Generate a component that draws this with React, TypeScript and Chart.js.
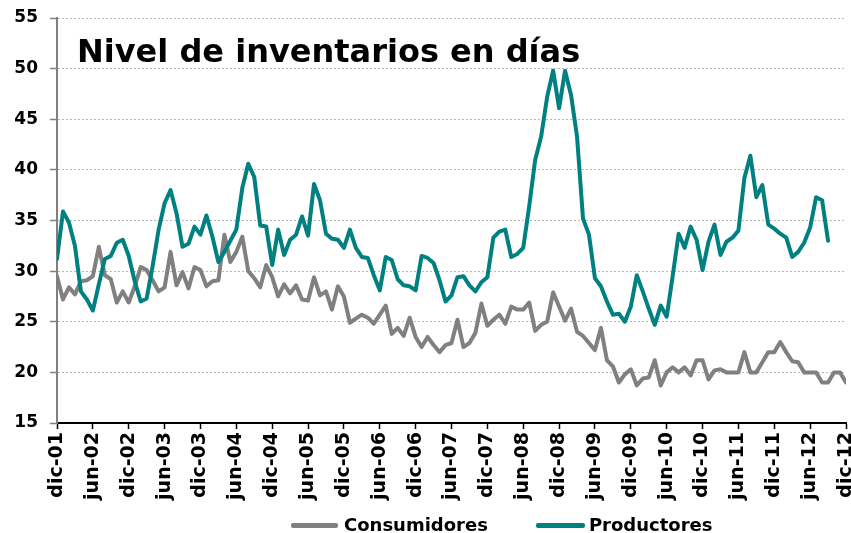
import React, { useEffect, useRef } from 'react';
import { Chart, registerables } from 'chart.js';

Chart.register(...registerables);

const FONT = "'DejaVu Sans', Verdana, sans-serif";

const chartTitle = 'Nivel de inventarios en días';

const seriesNames = ['Consumidores', 'Productores'];

const tickLabels = [
  'dic-01', 'jun-02', 'dic-02', 'jun-03', 'dic-03', 'jun-04', 'dic-04', 'jun-05',
  'dic-05', 'jun-06', 'dic-06', 'jun-07', 'dic-07', 'jun-08', 'dic-08', 'jun-09',
  'dic-09', 'jun-10', 'dic-10', 'jun-11', 'dic-11', 'jun-12', 'dic-12',
];

const yTicks = [15, 20, 25, 30, 35, 40, 45, 50, 55];

// monthly values, dic-01 .. dic-12
const consumidores = [
  29.5, 27.2, 28.4, 27.7, 29.0, 29.1, 29.5, 32.4, 29.6, 29.2, 26.9, 28.0,
  26.9, 28.5, 30.4, 30.1, 29.1, 28.0, 28.4, 31.9, 28.6, 29.9, 28.3, 30.4,
  30.1, 28.5, 29.0, 29.1, 33.6, 30.9, 31.9, 33.4, 30.0, 29.3, 28.4, 30.6,
  29.4, 27.5, 28.7, 27.8, 28.6, 27.2, 27.1, 29.4, 27.6, 28.0, 26.2, 28.5,
  27.5, 24.9, 25.3, 25.7, 25.4, 24.8, 25.7, 26.6, 23.8, 24.4, 23.6, 25.4,
  23.5, 22.5, 23.5, 22.7, 22.0, 22.7, 22.9, 25.2, 22.5, 22.9, 23.9, 26.8,
  24.6, 25.2, 25.7, 24.8, 26.5, 26.2, 26.2, 26.9, 24.1, 24.7, 25.0, 27.9,
  26.5, 25.1, 26.3, 24.0, 23.6, 22.9, 22.2, 24.4, 21.2, 20.6, 19.0, 19.8,
  20.3, 18.7, 19.4, 19.5, 21.2, 18.7, 20.0, 20.5, 20.0, 20.5, 19.7, 21.2,
  21.2, 19.3, 20.2, 20.3, 20.0, 20.0, 20.0, 22.0, 20.0, 20.0, 21.0, 22.0,
  22.0, 23.0, 22.0, 21.1, 21.0, 20.0, 20.0, 20.0, 19.0, 19.0, 20.0, 20.0,
  19.0,
];

// monthly values, dic-01 .. sep-12
const productores = [
  31.2, 35.9, 34.8, 32.5, 28.0, 27.2, 26.1, 28.7, 31.2, 31.5, 32.8, 33.1,
  31.5, 29.0, 27.0, 27.3, 30.5, 34.1, 36.7, 38.0, 35.7, 32.4, 32.7, 34.4,
  33.6, 35.5, 33.4, 30.9, 31.9, 33.0, 34.1, 38.2, 40.6, 39.3, 34.5, 34.4,
  30.6, 34.1, 31.6, 33.1, 33.6, 35.4, 33.5, 38.6, 37.0, 33.7, 33.2, 33.1,
  32.3, 34.1, 32.3, 31.4, 31.3, 29.6, 28.1, 31.4, 31.1, 29.2, 28.6, 28.5,
  28.1, 31.5, 31.3, 30.8, 29.1, 27.0, 27.6, 29.4, 29.5, 28.6, 28.0, 28.9,
  29.4, 33.3, 33.9, 34.1, 31.4, 31.7, 32.3, 36.4, 41.0, 43.3, 47.2, 49.8,
  46.1, 49.8, 47.4, 43.3, 35.2, 33.6, 29.3, 28.5, 27.0, 25.7, 25.8, 25.0,
  26.5, 29.6, 28.0, 26.3, 24.7, 26.6, 25.5, 29.5, 33.7, 32.3, 34.4, 33.1,
  30.1, 32.9, 34.6, 31.6, 32.9, 33.3, 34.0, 39.2, 41.4, 37.3, 38.5, 34.6,
  34.2, 33.7, 33.3, 31.4, 31.9, 32.8, 34.3, 37.3, 37.0, 33.0,
];

const colors = ['#808080', '#008080'];

export default function App() {
  const ref = useRef<HTMLCanvasElement>(null);

  useEffect(() => {
    document.body.style.margin = '0';
    const canvas = ref.current;
    if (!canvas) return;
    const series = [consumidores, productores];
    const chart = new Chart(canvas, {
      type: 'line',
      data: {
        datasets: series.map((arr, k) => ({
          label: seriesNames[k],
          data: arr.map((y, i) => ({ x: i, y })),
          borderColor: colors[k],
          backgroundColor: colors[k],
          borderWidth: 4,
          pointRadius: 0,
          tension: 0,
          fill: false,
          borderJoinStyle: 'round' as const,
          borderCapStyle: 'round' as const,
          order: k === 1 ? 0 : 1,
        })),
      },
      options: {
        animation: false,
        responsive: false,
        maintainAspectRatio: false,
        layout: { padding: { top: 18, right: 5, left: 0, bottom: 0 } },
        plugins: {
          legend: { display: false },
          tooltip: { enabled: false },
          title: { display: false },
        },
        scales: {
          x: {
            type: 'linear',
            min: 0,
            max: (tickLabels.length - 1) * 6,
            afterFit: (s: any) => {
              s.height = 110;
              s.paddingLeft = 0;
              s.paddingRight = 0;
            },
            grid: {
              drawOnChartArea: false,
              drawTicks: true,
              tickLength: 6,
              tickColor: '#000000',
              tickWidth: 1.5,
            },
            border: { display: true, color: '#000000', width: 2 },
            ticks: {
              stepSize: 6,
              autoSkip: false,
              maxRotation: 90,
              minRotation: 90,
              padding: 3,
              color: '#000000',
              font: { family: FONT, size: 19, weight: 'bold' },
              callback: (v: any) => tickLabels[Math.round(Number(v) / 6)] ?? '',
            },
          },
          y: {
            type: 'linear',
            min: yTicks[0],
            max: yTicks[yTicks.length - 1],
            afterFit: (s: any) => {
              s.width = 57;
              s.paddingTop = 0;
              s.paddingBottom = 0;
            },
            afterBuildTicks: (s: any) => {
              s.ticks = yTicks.map((v) => ({ value: v }));
            },
            grid: {
              color: (ctx: any) =>
                ctx.tick && ctx.tick.value === yTicks[0] ? 'rgba(0,0,0,0)' : '#b8b8b8',
              lineWidth: 1,
              tickLength: 7,
              tickColor: '#808080',
              tickWidth: 1.5,
              tickBorderDash: [],
            },
            border: { display: true, color: '#808080', width: 2, dash: [2, 2] },
            ticks: {
              padding: 12,
              color: '#000000',
              font: { family: FONT, size: 17, weight: 'bold' },
            },
          },
        },
      } as any,
    });
    return () => chart.destroy();
  }, []);

  return (
    <div
      style={{
        position: 'fixed',
        left: 0,
        top: 0,
        width: 851,
        height: 533,
        background: '#ffffff',
        fontFamily: FONT,
      }}
    >
      <canvas ref={ref} width={851} height={533} style={{ display: 'block', width: 851, height: 533 }} />
      <div
        style={{
          position: 'absolute',
          left: 77,
          top: 35,
          fontSize: 32,
          lineHeight: '32px',
          fontWeight: 'bold',
          color: '#000',
          whiteSpace: 'nowrap',
        }}
      >
        {chartTitle}
      </div>
      <div
        style={{
          position: 'absolute',
          left: 291,
          top: 516,
          height: 18,
          display: 'flex',
          alignItems: 'center',
          fontSize: 18,
          lineHeight: '18px',
          fontWeight: 'bold',
          color: '#000',
          whiteSpace: 'nowrap',
        }}
      >
        <span style={{ display: 'inline-block', width: 47, height: 5, background: colors[0], borderRadius: 2, marginRight: 6 }} />
        <span>{seriesNames[0]}</span>
        <span style={{ display: 'inline-block', width: 49, height: 5, background: colors[1], borderRadius: 2, marginLeft: 48, marginRight: 4 }} />
        <span>{seriesNames[1]}</span>
      </div>
    </div>
  );
}
